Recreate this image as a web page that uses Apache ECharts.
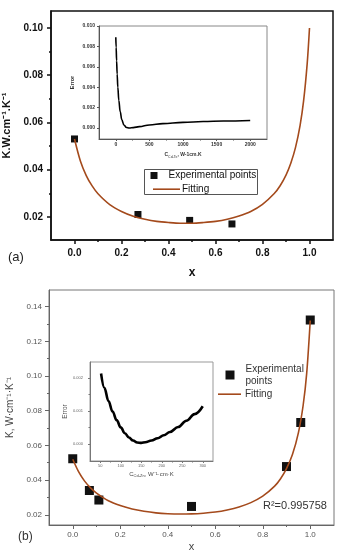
<!DOCTYPE html>
<html><head><meta charset="utf-8">
<script src="https://cdn.jsdelivr.net/npm/echarts@6/dist/echarts.min.js"></script>
<style>html,body{margin:0;padding:0;background:#fff}#c{width:340px;height:550px}</style>
</head><body><div id="c"></div>
<script>
// ---------- Panel (a) ----------
const expA_x = [0, 0.27, 0.49, 0.67];
const expA_y = [0.053, 0.021, 0.0185, 0.017];
const fitA_x = [0, 0.025, 0.05, 0.075, 0.1, 0.15, 0.2, 0.25, 0.3, 0.35, 0.4, 0.45, 0.5, 0.55, 0.6, 0.65, 0.7, 0.75, 0.8, 0.85, 0.875, 0.9, 0.92, 0.94, 0.96, 0.975, 0.99, 1.0];
const fitA_y = [0.053, 0.0437, 0.0375, 0.0331, 0.0298, 0.0252, 0.0223, 0.0203, 0.019, 0.0181, 0.0176, 0.0173, 0.0173, 0.0176, 0.0181, 0.019, 0.0204, 0.0223, 0.0253, 0.0299, 0.0332, 0.0377, 0.0426, 0.0492, 0.0588, 0.0692, 0.0847, 0.1];
const insA_c = [0, 5, 12, 20, 30, 45, 65, 90, 120, 160, 200, 260, 350, 500, 700, 1000, 1300, 1600, 2000];
const insA_err = [0.0089, 0.0079, 0.0066, 0.0053, 0.004, 0.0027, 0.0016, 0.0008, 0.0003, 0.00005, 0.0, 0.00004, 0.00013, 0.0003, 0.00043, 0.00055, 0.00063, 0.00068, 0.00074];
// ---------- Panel (b) ----------
const expB_x = [0, 0.07, 0.11, 0.5, 0.9, 0.96, 1.0];
const expB_y = [0.0523, 0.034, 0.0285, 0.0248, 0.0478, 0.0732, 0.1323];
const fitB_x = [0, 0.025, 0.05, 0.075, 0.1, 0.15, 0.2, 0.25, 0.3, 0.35, 0.4, 0.45, 0.5, 0.55, 0.6, 0.65, 0.7, 0.75, 0.8, 0.85, 0.875, 0.9, 0.925, 0.95, 0.97, 0.985, 1.0];
const fitB_y = [0.052, 0.0447, 0.0394, 0.0355, 0.0325, 0.0281, 0.0253, 0.0233, 0.022, 0.0211, 0.0206, 0.0204, 0.0205, 0.0209, 0.0216, 0.0228, 0.0245, 0.027, 0.0307, 0.0365, 0.0408, 0.0466, 0.0547, 0.0672, 0.083, 0.1015, 0.132];
const insB_c = [52, 60, 70, 80, 90, 100, 110, 120, 130, 140, 150, 160, 175, 190, 205, 220, 240, 260, 280, 300];
const insB_err = [0.00213, 0.0017, 0.0013, 0.00098, 0.00072, 0.0005, 0.00032, 0.00019, 0.0001, 0.00004, 0.00003, 0.00005, 0.0001, 0.00017, 0.00026, 0.00036, 0.00051, 0.0007, 0.0009, 0.00114];
// ---------- Tick labels ----------
const xMajor = [0, 0.2, 0.4, 0.6, 0.8, 1.0];
const xMinor = [0.1, 0.3, 0.5, 0.7, 0.9];
const yMajorA = [0.02, 0.04, 0.06, 0.08, 0.10];
const yMinorA = [0.03, 0.05, 0.07, 0.09];
const yMajorB = [0.02, 0.04, 0.06, 0.08, 0.10, 0.12, 0.14];
const yMinorB = [0.03, 0.05, 0.07, 0.09, 0.11, 0.13];
const insAxMajor = [0, 500, 1000, 1500, 2000];
const insAxMinor = [250, 750, 1250, 1750];
const insAyMajor = [0, 0.002, 0.004, 0.006, 0.008, 0.010];
const insBxMajor = [50, 100, 150, 200, 250, 300];
const insBxMinor = [75, 125, 175, 225, 275];
const insByMajor = [0, 0.001, 0.002];
const insByMinor = [0.0005, 0.0015];

const legendNames = {expA: 'Experimental points', fitA: 'Fitting', expB: 'Experimental\npoints', fitB: 'Fitting'};
const FONT = 'Liberation Sans';
const FIT_COLOR = '#a44a1c';

function axis(o) {
  return {
    type: 'value', gridIndex: o.grid, min: o.min, max: o.max, position: o.pos,
    splitLine: {show: false},
    axisLine: {show: !o.minor, onZero: false, lineStyle: {color: o.color, width: o.lw || 1}},
    axisTick: {show: true, inside: false, length: o.tl, customValues: o.ticks, lineStyle: {color: o.color, width: o.lw || 1}},
    axisLabel: o.minor ? {show: false} : {
      show: true, customValues: o.ticks, margin: o.margin,
      formatter: v => o.fmt(v), fontSize: o.fs, color: o.lc || o.color,
      fontWeight: o.bold ? 'bold' : 'normal', fontFamily: FONT
    },
    name: o.name || '', nameLocation: 'middle', nameGap: o.nameGap,
    nameTextStyle: o.nts || {},
    z: o.z || 3
  };
}

const f2 = v => v.toFixed(2), f1 = v => v.toFixed(1), f3 = v => v.toFixed(3), f0 = v => String(Math.round(v));

const option = {
  animation: false,
  backgroundColor: '#fff',
  grid: [
    {left: 51, top: 11, width: 282, height: 229, show: true, borderColor: '#111', borderWidth: 1.5, backgroundColor: 'transparent', outerBoundsMode: 'none'},
    {left: 99, top: 26, width: 168, height: 113, show: true, borderColor: '#888', borderWidth: 1, backgroundColor: '#fff', outerBoundsMode: 'none', z: 1},
    {left: 49, top: 290, width: 285, height: 235, show: true, borderColor: '#777', borderWidth: 1, backgroundColor: 'transparent', outerBoundsMode: 'none'},
    {left: 90, top: 362, width: 123, height: 99, show: true, borderColor: '#999', borderWidth: 1, backgroundColor: '#fff', outerBoundsMode: 'none', z: 1}
  ],
  xAxis: [
    axis({grid: 0, min: -0.1, max: 1.1, pos: 'bottom', ticks: xMajor, tl: 4, color: '#111', lw: 1.5, margin: 8, fmt: f1, fs: 10, bold: true,
      name: 'x', nameGap: 27, nts: {fontSize: 12, fontWeight: 'bold', fontFamily: FONT, color: '#111'}}),
    axis({grid: 0, min: -0.1, max: 1.1, pos: 'bottom', ticks: xMinor, tl: 2, color: '#111', lw: 1.5, minor: true}),
    axis({grid: 1, min: -250, max: 2250, pos: 'bottom', ticks: insAxMajor, tl: 2, color: '#555', margin: 3, fmt: f0, fs: 5, lc: '#333', bold: true,
      name: '{m|C}{s|Cd-Te}{m|, W-1cm.K}', nameGap: 12, nts: {fontFamily: FONT, color: '#333', rich: {m: {fontSize: 5, fontWeight: 'bold', lineHeight: 8}, s: {fontSize: 3.5, lineHeight: 8, verticalAlign: 'bottom', padding: [3, 0, 0, 0]}}}}),
    axis({grid: 1, min: -250, max: 2250, pos: 'bottom', ticks: insAxMinor, tl: 1.5, color: '#555', minor: true}),
    axis({grid: 2, min: -0.1, max: 1.1, pos: 'bottom', ticks: xMajor, tl: 4, color: '#666', margin: 6, fmt: f1, fs: 8, lc: '#555',
      name: 'x', nameGap: 16, nts: {fontSize: 11, fontFamily: FONT, color: '#444'}}),
    axis({grid: 2, min: -0.1, max: 1.1, pos: 'bottom', ticks: xMinor, tl: 2, color: '#666', minor: true}),
    axis({grid: 3, min: 25, max: 325, pos: 'bottom', ticks: insBxMajor, tl: 2, color: '#777', margin: 3, fmt: f0, fs: 4, lc: '#666',
      name: '{m|C}{s|Cd-Zn}{m|, W⁻¹·cm·K}', nameGap: 9, nts: {fontFamily: FONT, color: '#444', rich: {m: {fontSize: 6, lineHeight: 8}, s: {fontSize: 4, lineHeight: 8, padding: [3, 0, 0, 0]}}}}),
    axis({grid: 3, min: 25, max: 325, pos: 'bottom', ticks: insBxMinor, tl: 1.5, color: '#777', minor: true})
  ],
  yAxis: [
    axis({grid: 0, min: 0.0102, max: 0.1072, pos: 'left', ticks: yMajorA, tl: 4, color: '#111', lw: 1.5, margin: 8, fmt: f2, fs: 10, bold: true,
      name: 'K.W.cm⁻¹.K⁻¹', nameGap: 33, nts: {fontSize: 11, fontWeight: 'bold', fontFamily: FONT, color: '#111'}}),
    axis({grid: 0, min: 0.0102, max: 0.1072, pos: 'left', ticks: yMinorA, tl: 2, color: '#111', lw: 1.5, minor: true}),
    axis({grid: 1, min: -0.00108, max: 0.010, pos: 'left', ticks: insAyMajor, tl: 2, color: '#555', margin: 4, fmt: f3, fs: 5, lc: '#333', bold: true,
      name: 'Error', nameGap: 24, nts: {fontSize: 5.5, fontFamily: FONT, color: '#333', fontWeight: 'bold'}}),
    axis({grid: 2, min: 0.0141, max: 0.1496, pos: 'left', ticks: yMajorB, tl: 4, color: '#666', margin: 7, fmt: f2, fs: 8, lc: '#555',
      name: 'K, W·cm⁻¹·K⁻¹', nameGap: 28, nts: {fontSize: 10, fontFamily: FONT, color: '#444'}}),
    axis({grid: 2, min: 0.0141, max: 0.1496, pos: 'left', ticks: yMinorB, tl: 2, color: '#666', minor: true}),
    axis({grid: 3, min: -0.00052, max: 0.00248, pos: 'left', ticks: insByMajor, tl: 2, color: '#777', margin: 7, fmt: f3, fs: 4, lc: '#666',
      name: 'Error', nameGap: 15, nts: {fontSize: 6.5, fontFamily: FONT, color: '#555'}}),
    axis({grid: 3, min: -0.00052, max: 0.00248, pos: 'left', ticks: insByMinor, tl: 1.5, color: '#777', minor: true})
  ],
  legend: [
    {data: [{name: 'expA', icon: 'rect'}], left: 150.5, top: 170.5, padding: 0, itemWidth: 7, itemHeight: 7, selectedMode: false,
      formatter: n => legendNames[n], textStyle: {fontSize: 10, fontFamily: FONT, color: '#111', padding: [0, 0, 0, 6]}},
    {data: [{name: 'fitA', icon: 'rect'}], left: 153, top: 184.2, padding: 0, itemWidth: 27, itemHeight: 1.6, selectedMode: false,
      formatter: n => legendNames[n], textStyle: {fontSize: 10, fontFamily: FONT, color: '#111', padding: [0, 0, 0, -3]}},
    {data: [{name: 'expB', icon: 'rect'}], left: 225.5, top: 357, padding: 0, itemWidth: 9, itemHeight: 9, selectedMode: false,
      formatter: n => legendNames[n], textStyle: {fontSize: 10, lineHeight: 12, fontFamily: FONT, color: '#333', padding: [12, 0, 0, 6]}},
    {data: [{name: 'fitB', icon: 'rect'}], left: 218, top: 389.2, padding: 0, itemWidth: 23, itemHeight: 1.6, selectedMode: false,
      formatter: n => legendNames[n], textStyle: {fontSize: 10, fontFamily: FONT, color: '#333', padding: [0, 0, 0, -1]}}
  ],
  graphic: [
    {type: 'rect', left: 142, top: 167, shape: {width: 113, height: 25}, style: {fill: 'none', stroke: '#555', lineWidth: 1}, z: 5},
    {type: 'text', left: 8, top: 251, style: {text: '(a)', fontSize: 13, fontFamily: FONT, fill: '#222'}},
    {type: 'text', left: 18, top: 531, style: {text: '(b)', fontSize: 12, fontFamily: FONT, fill: '#333'}},
    {type: 'text', left: 263, top: 500, style: {text: 'R²=0.995758', fontSize: 11, fontFamily: FONT, fill: '#333'}}
  ],
  series: [
    {name: 'expA', type: 'scatter', xAxisIndex: 0, yAxisIndex: 0, symbol: 'rect', symbolSize: 7,
      itemStyle: {color: '#111', opacity: 1}, data: expA_x.map((x, i) => [x, expA_y[i]]), z: 3},
    {name: 'fitA', type: 'line', xAxisIndex: 0, yAxisIndex: 0, showSymbol: false, symbol: 'none', smooth: 0.3,
      lineStyle: {color: FIT_COLOR, width: 1.6}, itemStyle: {color: FIT_COLOR}, data: fitA_x.map((x, i) => [x, fitA_y[i]]), z: 4},
    {name: 'insA', type: 'line', xAxisIndex: 2, yAxisIndex: 2, showSymbol: false, symbol: 'none', smooth: 0.4, smoothMonotone: 'x',
      lineStyle: {color: '#000', width: 1.6}, data: insA_c.map((x, i) => [x, insA_err[i]]), z: 6},
    {name: 'expB', type: 'scatter', xAxisIndex: 4, yAxisIndex: 3, symbol: 'rect', symbolSize: 9,
      itemStyle: {color: '#111', opacity: 1}, data: expB_x.map((x, i) => [x, expB_y[i]]), z: 3},
    {name: 'fitB', type: 'line', xAxisIndex: 4, yAxisIndex: 3, showSymbol: false, symbol: 'none', smooth: 0.3,
      lineStyle: {color: FIT_COLOR, width: 1.6}, itemStyle: {color: FIT_COLOR}, data: fitB_x.map((x, i) => [x, fitB_y[i]]), z: 4},
    {name: 'insB', type: 'line', xAxisIndex: 6, yAxisIndex: 5, showSymbol: false, symbol: 'none', smooth: 0.4, smoothMonotone: 'x',
      lineStyle: {color: '#000', width: 2.6}, data: insB_c.map((x, i) => [x, insB_err[i]]), z: 6}
  ]
};
const chart = echarts.init(document.getElementById('c'), null, {renderer: 'canvas'});
chart.setOption(option);
</script></body></html>
